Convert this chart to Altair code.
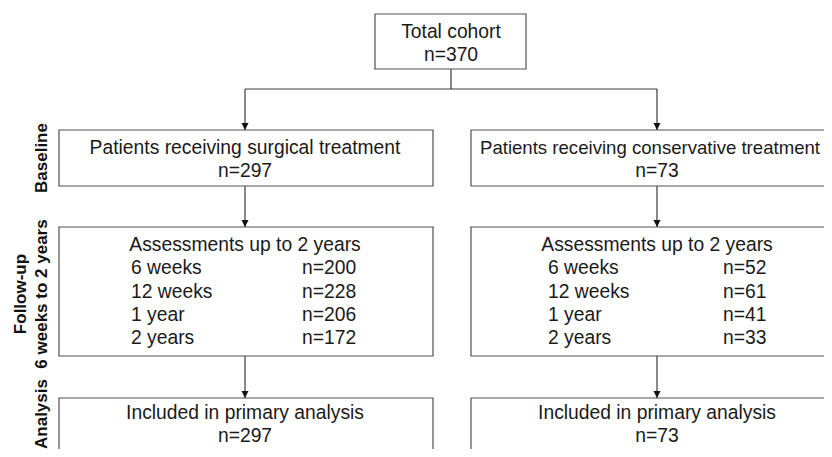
import altair as alt
import pandas as pd

# ---------------- content ----------------
total_label = "Total cohort"
total_n = 370
arm_labels = ["Patients receiving surgical treatment",
              "Patients receiving conservative treatment"]
arm_n = [297, 73]
assess_title = "Assessments up to 2 years"
timepoints = ["6 weeks", "12 weeks", "1 year", "2 years"]
surgical_counts = [200, 228, 206, 172]
conservative_counts = [52, 61, 41, 33]
analysis_label = "Included in primary analysis"
analysis_n = [297, 73]
stage_titles = [["Baseline"], ["Follow-up", "6 weeks to 2 years"], ["Analysis"]]

# ---------------- layout (page pixel coordinates) ----------------
col_center = [245, 657]
col_left = [59, 471]
col_right = [433, 843]
top_box = (375, 526, 14, 69)
row_top = [130, 227, 398]
row_bottom = [186, 356, 453]
junction_y = 89
top_center = 451
stage_center_y = [158, 294, 414]
stage_line_x = [[47], [26, 47], [47]]
label_x = [131, 548]
count_x = [302, 723]
row_baselines = [274, 298, 321, 344]
arm_label_x = [245, 650]
arm_label_fs = [19.3, 18.6]

FONT = "Liberation Sans"
LINE = "#3a3a3a"
FS = 19.3

# boxes
boxes = [dict(x=top_box[0], x2=top_box[1], y=top_box[2], y2=top_box[3])]
for r in range(3):
    for c in range(2):
        boxes.append(dict(x=col_left[c], x2=col_right[c], y=row_top[r], y2=row_bottom[r]))
boxes = pd.DataFrame(boxes)

# connector lines
rules = [dict(x=top_center, x2=top_center, y=top_box[3], y2=junction_y),
         dict(x=col_center[0], x2=col_center[1], y=junction_y, y2=junction_y)]
for c in range(2):
    rules.append(dict(x=col_center[c], x2=col_center[c], y=junction_y, y2=row_top[0]))
    rules.append(dict(x=col_center[c], x2=col_center[c], y=row_bottom[0], y2=row_top[1]))
    rules.append(dict(x=col_center[c], x2=col_center[c], y=row_bottom[1], y2=row_top[2]))
rules = pd.DataFrame(rules)

# arrow heads
arrows = pd.DataFrame([dict(x=col_center[c], y=row_top[r] - 3.5) for r in range(3) for c in range(2)])

# centered texts
ctext = [dict(x=top_center, y=38, t=total_label, fs=FS),
         dict(x=top_center, y=61, t=f"n={total_n}", fs=FS)]
for c in range(2):
    ctext.append(dict(x=arm_label_x[c], y=154, t=arm_labels[c], fs=arm_label_fs[c]))
    ctext.append(dict(x=col_center[c], y=177, t=f"n={arm_n[c]}", fs=FS))
    ctext.append(dict(x=col_center[c], y=251, t=assess_title, fs=FS))
    ctext.append(dict(x=col_center[c], y=419, t=analysis_label, fs=FS))
    ctext.append(dict(x=col_center[c], y=442, t=f"n={analysis_n[c]}", fs=FS))
ctext = pd.DataFrame(ctext)

# left-aligned table texts
ltext = []
for c, counts in enumerate([surgical_counts, conservative_counts]):
    for i, (tp, n) in enumerate(zip(timepoints, counts)):
        ltext.append(dict(x=label_x[c], y=row_baselines[i], t=tp))
        ltext.append(dict(x=count_x[c], y=row_baselines[i], t=f"n={n}"))
ltext = pd.DataFrame(ltext)

# stage labels (rotated)
stext = []
for s, lines in enumerate(stage_titles):
    for j, line in enumerate(lines):
        stext.append(dict(x=stage_line_x[s][j], y=stage_center_y[s], t=line))
stext = pd.DataFrame(stext)

# plot area covers page pixels 8..824 (x) and 8..449 (y)
xs = alt.Scale(domain=[8, 824], nice=False, zero=False)
ys = alt.Scale(domain=[8, 449], nice=False, zero=False, reverse=True)
X = lambda f="x": alt.X(f"{f}:Q", scale=xs, axis=None)
Y = lambda f="y": alt.Y(f"{f}:Q", scale=ys, axis=None)

box_layer = alt.Chart(boxes).mark_rect(fill="white", stroke="#505050", strokeWidth=1.2).encode(
    x=X(), x2="x2:Q", y=Y(), y2="y2:Q")
rule_layer = alt.Chart(rules).mark_rule(color=LINE, strokeWidth=1.2).encode(
    x=X(), x2="x2:Q", y=Y(), y2="y2:Q")
arrow_layer = alt.Chart(arrows).mark_point(
    shape="M-1,-1L1,-1L0,1Z", filled=True, color="#111", size=50, opacity=1).encode(x=X(), y=Y())
ctext_layer = alt.Chart(ctext).mark_text(
    font=FONT, align="center", baseline="alphabetic", color="#1a1a1a").encode(
    x=X(), y=Y(), text="t:N", size=alt.Size("fs:Q", scale=None, legend=None))
ltext_layer = alt.Chart(ltext).mark_text(
    font=FONT, fontSize=FS, align="left", baseline="alphabetic", color="#1a1a1a").encode(
    x=X(), y=Y(), text="t:N")
stext_layer = alt.Chart(stext).mark_text(
    font=FONT, fontSize=17, fontWeight="bold", align="center", baseline="alphabetic",
    angle=270, color="#111").encode(x=X(), y=Y(), text="t:N")

chart = alt.layer(rule_layer, box_layer, arrow_layer, ctext_layer, ltext_layer, stext_layer).properties(
    width=816, height=441, padding=0, autosize=alt.AutoSizeParams(type="none"),
    background="white"
).configure_view(stroke=None)

chart.save("out.html", embed_options={"renderer": "svg", "actions": False})
